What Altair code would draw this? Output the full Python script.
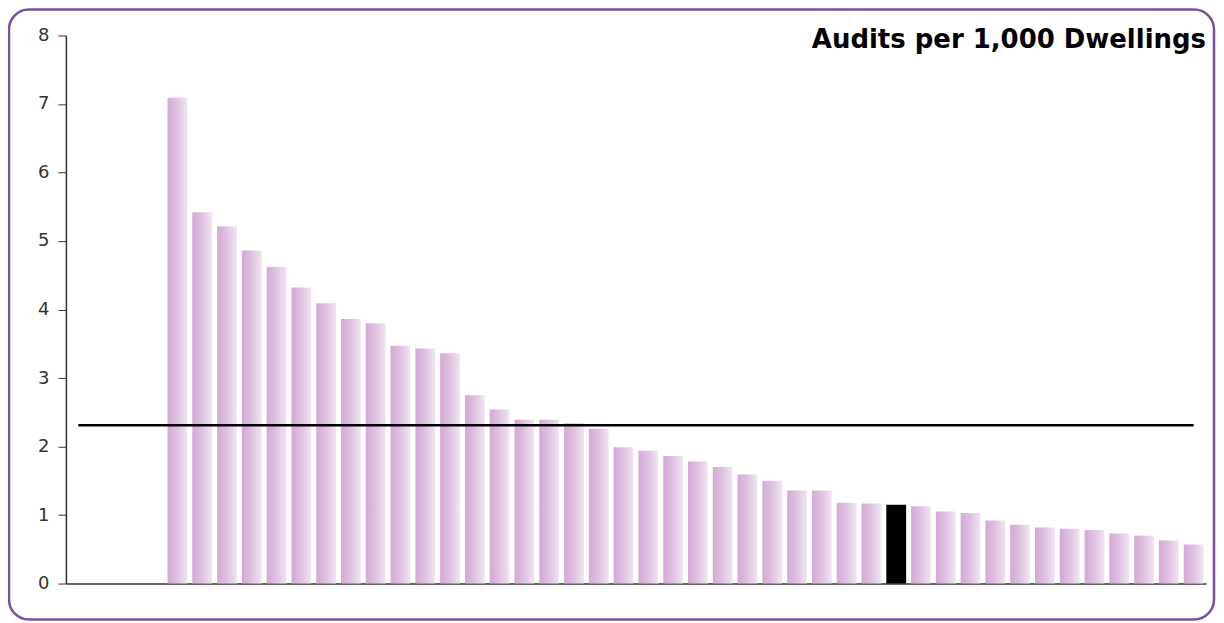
import altair as alt
import pandas as pd

# ---- data ----
ranks = [f"R{i:02d}" for i in range(1, 43)]
values = [7.09, 5.42, 5.21, 4.86, 4.62, 4.32, 4.09, 3.86, 3.80, 3.47, 3.43, 3.36,
          2.75, 2.54, 2.39, 2.39, 2.34, 2.26, 1.99, 1.94, 1.86, 1.78, 1.70, 1.59,
          1.50, 1.36, 1.36, 1.18, 1.17, 1.15, 1.13, 1.05, 1.03, 0.92, 0.86, 0.82,
          0.80, 0.78, 0.73, 0.70, 0.63, 0.57]
highlight = "R30"
blank_slots = ["_b1", "_b2", "_b3", "_b4"]
average = 2.31
title_text = "Audits per 1,000 Dwellings"

domain = blank_slots + ranks

bars = pd.DataFrame({"slot": ranks, "value": values})
bars["hl"] = bars["slot"] == highlight
avg_df = pd.DataFrame({"slot": domain, "avg": [average] * len(domain)})

W, H = 1142, 549
FONT = "DejaVu Sans"

xscale = alt.Scale(domain=domain, paddingInner=0.2, paddingOuter=0.1)
yscale = alt.Scale(domain=[0, 8], nice=False)

xenc = alt.X("slot:N", scale=xscale,
             axis=alt.Axis(labels=False, ticks=False, title=None, domainColor="#333333",
                           domainWidth=1.5))
yenc_axis = alt.Axis(values=[0, 1, 2, 3, 4, 5, 6, 7, 8], format="d", grid=False, title=None,
                     tickSize=8, tickColor="#333333", domainColor="#333333", domainWidth=1.5,
                     labelFont=FONT, labelFontSize=18, labelColor="#333333",
                     labelPadding=9)

grad = alt.Gradient(gradient="linear",
                    stops=[alt.GradientStop(color="#d3a9d5", offset=0),
                           alt.GradientStop(color="#debfe0", offset=0.45),
                           alt.GradientStop(color="#f0e5f2", offset=1)],
                    x1=0, x2=1, y1=0, y2=0)

base = alt.Chart(bars)

purple_bars = base.transform_filter("!datum.hl").mark_bar(fill=grad).encode(
    x=xenc,
    y=alt.Y("value:Q", scale=yscale, axis=yenc_axis),
)
black_bar = base.transform_filter("datum.hl").mark_bar(fill="#000000").encode(
    x=xenc,
    y=alt.Y("value:Q", scale=yscale),
)

avg_line = alt.Chart(avg_df).mark_line(color="#000000", strokeWidth=2.5).encode(
    x=xenc,
    y=alt.Y("avg:Q", scale=yscale),
)

title = alt.Chart(pd.DataFrame({"t": [title_text]})).mark_text(
    font=FONT, fontSize=26, fontWeight="bold", align="right", baseline="alphabetic",
    color="#000000"
).encode(text="t:N", x=alt.value(W), y=alt.value(13))

border = alt.Chart(pd.DataFrame({"t": [title_text]})).mark_rect(
    fill=None, fillOpacity=0, stroke="#7a4fa0", strokeWidth=2.5, cornerRadius=20
).encode(x=alt.value(-57), x2=alt.value(1150), y=alt.value(-26), y2=alt.value(585))

chart = alt.layer(border, purple_bars, black_bar, avg_line, title).properties(
    width=W, height=H,
    autosize=alt.AutoSizeParams(type="none"),
    padding={"left": 58, "top": 27, "right": 10, "bottom": 38},
    background="#ffffff",
).configure_view(stroke=None)

chart.save("out.html", embed_options={"renderer": "svg", "actions": False})
